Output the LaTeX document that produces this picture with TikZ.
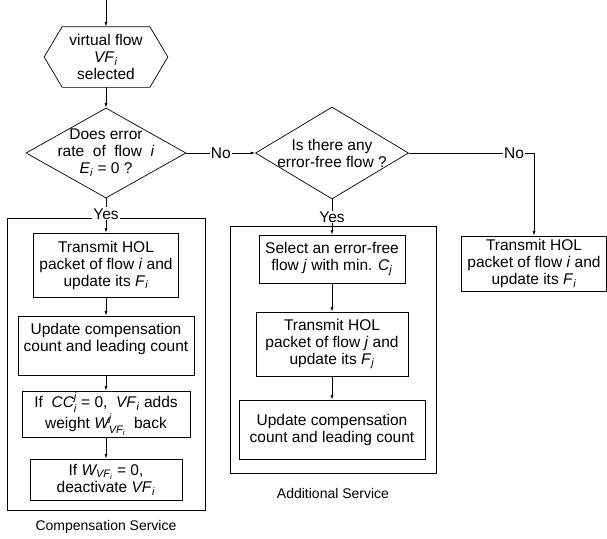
\documentclass[tikz,border=0pt]{standalone}
\usepackage{amsmath}
\usepackage{fontspec}
\setmainfont{Liberation Sans}
\usetikzlibrary{shapes.geometric,arrows.meta}

\newcommand{\iv}[1]{\textit{#1}}
\newcommand{\isub}[2]{\textit{#1}\textsubscript{\textit{#2}}}

\begin{document}
\begin{tikzpicture}[x=1pt,y=-1pt,>={Latex[length=4.5pt,width=3pt]},line width=.7pt,
    every node/.style={font=\fontsize{15.5}{17}\selectfont},
    box/.style={draw,rectangle,align=center,inner sep=0pt},
    decision/.style={draw,diamond,inner sep=0pt,minimum width=160pt,minimum height=90pt},
    frame/.style={draw,rectangle,inner sep=0pt},
    caption/.style={font=\fontsize{14}{16}\selectfont},
    tag/.style={fill=white,inner sep=1pt}]
        \useasboundingbox (0,0) rectangle (607,538);
        % frames of the two services
        \node[frame,minimum width=198pt,minimum height=292pt] (compframe) at (106,364) {};
        \node[frame,minimum width=206pt,minimum height=247pt] (addframe) at (333,349.5) {};
        \node[caption] (comptitle) at (106,527) {Compensation Service};
        \node[caption] (addtitle) at (333,493) {Additional Service};
        % start
        \coordinate (start) at (106,0);
        \node[align=center,minimum width=123pt,minimum height=60pt,inner sep=0pt] (sel) at (106,57)
            {virtual flow\\\isub{VF}{i}\\selected};
        \draw (sel.west) -- ([xshift=18pt]sel.north west) -- ([xshift=-18pt]sel.north east)
            -- (sel.east) -- ([xshift=-18pt]sel.south east) -- ([xshift=18pt]sel.south west) -- cycle;
        % decisions
        \node[decision,label={[align=center]center:{Does error\\rate \ of \ flow \ \iv{i}\\\isub{E}{i} = 0 ?}}] (q1) at (106,153) {};
        \node[decision,minimum width=153pt,minimum height=92pt,
            label={[align=center]center:{Is there any\\error-free flow ?}}] (q2) at (332,153) {};
        \node[box,minimum width=145pt,minimum height=55pt] (tx) at (534,263.5)
            {Transmit HOL\\packet of flow \iv{i} and\\update its \isub{F}{i}};
        % compensation service
        \node[box,minimum width=145pt,minimum height=64pt] (L1) at (106,265)
            {Transmit HOL\\packet of flow \iv{i} and\\update its \isub{F}{i}};
        \node[box,minimum width=176pt,minimum height=59pt,text depth=17pt] (L2) at (106,345.5)
            {Update compensation\\count and leading count};
        \node[box,minimum width=168pt,minimum height=46pt] (L3) at (106,414)
            {If \ $\textit{CC}^{\textit{j}}_{\textit{i}}$ = 0, \ \isub{VF}{i} adds\\weight $\textit{W}^{\textit{j}}_{\textit{VF}_{\textit{i}}}$ \ back};
        \node[box,minimum width=152pt,minimum height=41pt] (L4) at (106,479.5)
            {If $\textit{W}_{\textit{VF}_{\textit{i}}}$ = 0,\\deactivate \isub{VF}{i}};
        % additional service
        \node[box,minimum width=146pt,minimum height=48pt] (M1) at (332,259)
            {Select an error-free\\flow \iv{j} with min. \isub{C}{j}};
        \node[box,minimum width=152pt,minimum height=64pt] (M2) at (332,344)
            {Transmit HOL\\packet of flow \iv{j} and\\update its \isub{F}{j}};
        \node[box,minimum width=186pt,minimum height=59pt] (M3) at (332,429.5)
            {Update compensation\\count and leading count};
        % connectors
        \coordinate (turn) at (534,153);
        \draw[->] (start) -- (sel);
        \draw[->] (sel) -- (q1);
        \draw[->] (q1.east) -- node[tag]{No} (q2.west);
        \draw[->] (q2.east) -- node[tag,pos=.84]{No} (turn) -- (tx);
        \draw[->] (q1.south) -- node[tag,pos=.45]{Yes} (L1);
        \draw[->] (L1) -- (L2);
        \draw[->] (L2) -- (L3);
        \draw[->] (L3) -- (L4);
        \draw[->] (q2.south) -- node[tag,pos=.5]{Yes} (M1);
        \draw[->] (M1) -- (M2);
        \draw[->] (M2) -- (M3);
\end{tikzpicture}
\end{document}
